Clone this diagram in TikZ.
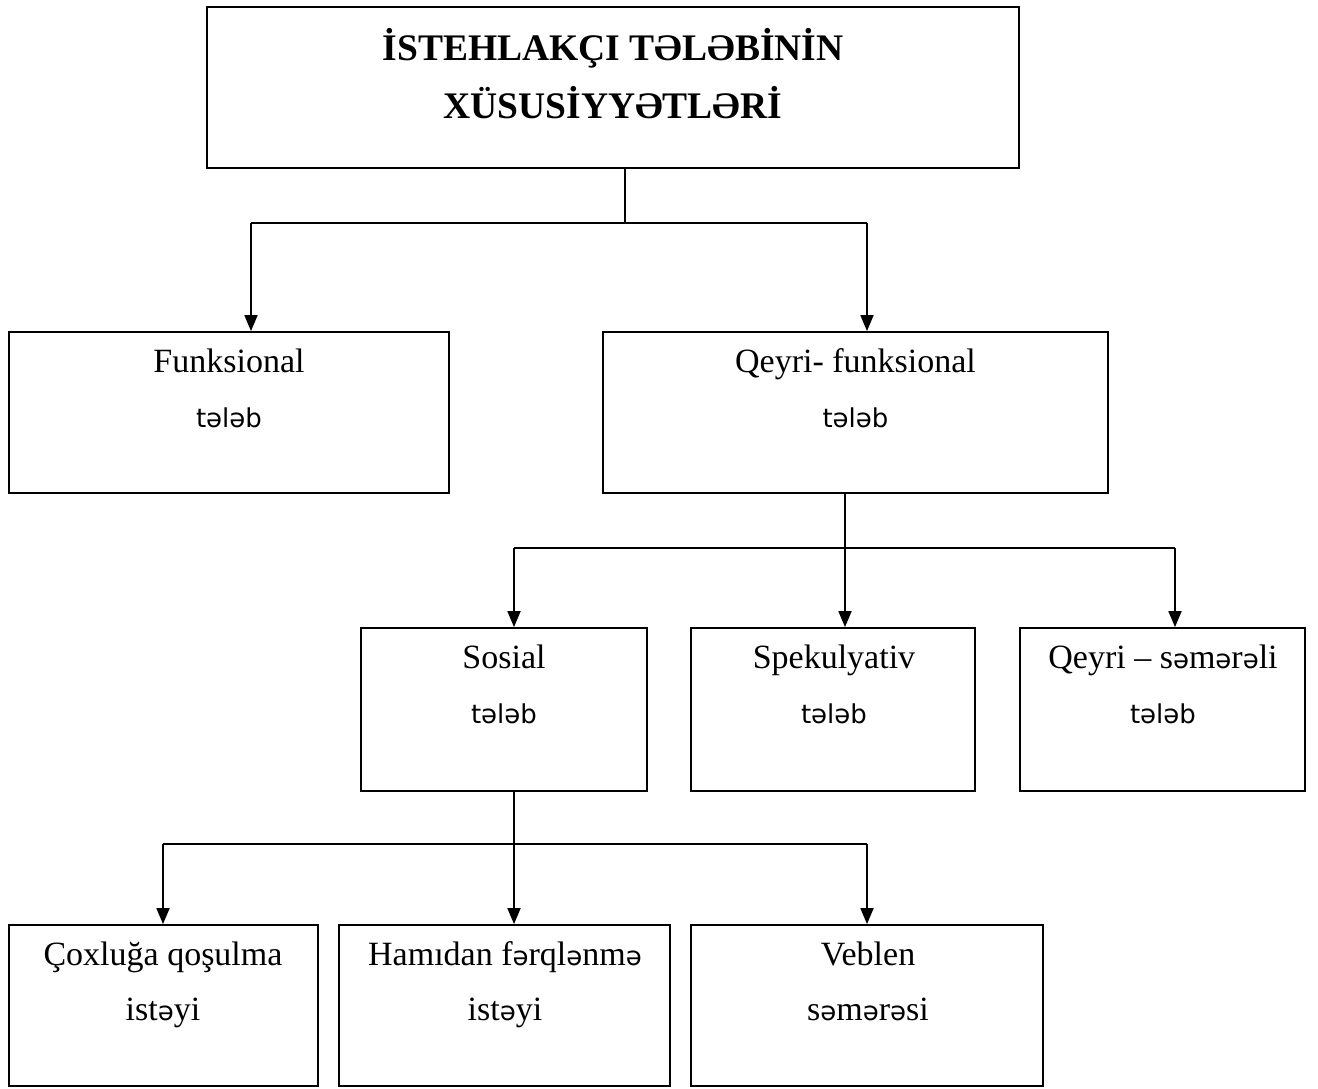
\documentclass[tikz,border=0pt]{standalone}
\usepackage{fontspec}
\setmainfont{Liberation Serif}
\newfontfamily\schwafont{DejaVu Sans}
\usetikzlibrary{arrows.meta}
\newcommand\sw{{\schwafont\fontsize{26}{55}\selectfont ə}}
\newcommand\tlb{{\schwafont\fontsize{26}{55}\selectfont tələb}}
\begin{document}
\begin{tikzpicture}[x=1pt,y=-1pt,
  box/.style={draw,line width=1.8pt,inner sep=0pt,minimum height=#1},
  box/.default=161pt,
  txt/.style={align=center,inner sep=0pt,anchor=base,font=\fontsize{34}{55}\selectfont},
  ttl/.style={align=center,inner sep=0pt,anchor=base,font=\bfseries\fontsize{37.5}{58}\selectfont},
  conn/.style={line width=1.8pt},
  arr/.style={line width=1.8pt,-{Triangle[length=16pt,width=13pt]}}]
\useasboundingbox (0,0) rectangle (1318,1088);

% boxes
\node[box, minimum width=812pt] (top) at (613,87.5) {};
\node[box, minimum width=440pt] (func) at (229,412.5) {};
\node[box, minimum width=505pt] (qf) at (855.5,412.5) {};
\node[box=163pt, minimum width=286pt] (sos) at (504,709.5) {};
\node[box=163pt, minimum width=284pt] (spek) at (833,709.5) {};
\node[box=163pt, minimum width=285pt] (qs) at (1162.5,709.5) {};
\node[box, minimum width=309pt] (cox) at (163.5,1005.5) {};
\node[box, minimum width=331pt] (ham) at (504.5,1005.5) {};
\node[box, minimum width=352pt] (veb) at (867,1005.5) {};

% texts (base anchor = baseline of the last line)
\node[ttl] (topT) at (613,118) {İSTEHLAKÇI TƏLƏBİNİN\\XÜSUSİYYƏTLƏRİ};
\node[txt] (funcT) at (229,427) {Funksional\\\tlb};
\node[txt] (qfT) at (855.5,427) {Qeyri- funksional\\\tlb};
\node[txt] (sosT) at (504,723) {Sosial\\\tlb};
\node[txt] (spekT) at (834,723) {Spekulyativ\\\tlb};
\node[txt] (qsT) at (1163,723) {Qeyri -- s\sw m\sw r\sw li\\\tlb};
\node[txt] (coxT) at (163,1020) {Çoxluğa qoşulma\\ist\sw yi};
\node[txt] (hamT) at (505,1020) {Hamıdan f\sw rql\sw nm\sw\\ist\sw yi};
\node[txt] (vebT) at (868,1020) {Veblen\\s\sw m\sw r\sw si};

% level 1 connectors
\coordinate (j0) at (625,223);
\coordinate (j0l) at (251,223);
\coordinate (j0r) at (867,223);
\draw[conn] (top.south -| j0) -- (j0);
\draw[conn] (j0l) -- (j0r);
\draw[arr] (j0l) -- (j0l |- func.north);
\draw[arr] (j0r) -- (j0r |- qf.north);

% level 2 connectors
\coordinate (j1) at (845,548);
\coordinate (j1l) at (514,548);
\coordinate (j1r) at (1175,548);
\draw[conn] (qf.south -| j1) -- (j1);
\draw[conn] (j1l) -- (j1r);
\draw[arr] (j1l) -- (j1l |- sos.north);
\draw[arr] (j1) -- (j1 |- spek.north);
\draw[arr] (j1r) -- (j1r |- qs.north);

% level 3 connectors
\coordinate (j2) at (514,844);
\coordinate (j2l) at (163,844);
\coordinate (j2r) at (867,844);
\draw[conn] (sos.south -| j2) -- (j2);
\draw[conn] (j2l) -- (j2r);
\draw[arr] (j2l) -- (j2l |- cox.north);
\draw[arr] (j2) -- (j2 |- ham.north);
\draw[arr] (j2r) -- (j2r |- veb.north);
\end{tikzpicture}
\end{document}
